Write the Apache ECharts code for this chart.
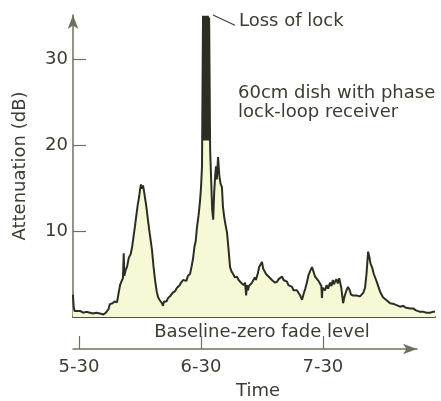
<!DOCTYPE html>
<html>
<head>
<meta charset="utf-8">
<script src="https://cdn.jsdelivr.net/npm/echarts@6/dist/echarts.min.js"></script>
<style>
html,body{margin:0;padding:0;background:#ffffff;}
#chart{width:441px;height:401px;}
</style>
</head>
<body>
<div id="chart"></div>
<script>
// Time in minutes after 5:00 (5-30 = 30, 6-30 = 90, 7-30 = 150)
var timeMin = [
  27.0, 27.4, 27.8, 28.5, 30.5, 32.0, 33.5, 35.4, 37.0, 38.5, 40.3, 42.0, 43.2, 43.8, 44.5, 45.2,
  46.5, 47.5, 48.7, 49.5, 50.2, 51.0, 51.6, 52.0, 52.3, 53.0, 53.6, 54.5, 55.4, 56.1, 56.8, 57.5,
  58.2, 59.0, 59.6, 60.0, 60.5, 61.0, 61.5, 62.0, 62.5, 62.9, 63.4, 63.9, 64.9, 65.9, 66.6, 67.4,
  68.2, 68.9, 69.6, 70.3, 70.8, 71.3, 71.8, 72.3, 73.0, 73.8, 74.8, 76.0, 77.2, 78.2, 79.5, 80.2,
  81.2, 82.0, 82.8, 83.6, 84.2, 84.6, 85.4, 86.1, 86.8, 87.4, 88.0, 88.8, 89.5, 90.0, 90.5, 91.0,
  91.3, 91.6, 91.9, 92.2, 92.5, 92.8, 93.1, 93.4, 93.7, 94.0, 94.5, 95.0, 95.5, 96.0, 96.5, 97.0,
  97.4, 97.8, 98.4, 99.0, 99.6, 100.3, 100.8, 101.5, 102.0, 102.8, 103.5, 104.3, 105.0, 105.8, 106.7, 107.7,
  108.5, 109.2, 110.0, 110.7, 111.3, 111.7, 112.2, 112.6, 113.1, 113.6, 114.5, 115.1, 115.6, 116.5, 117.0, 117.6,
  118.0, 118.6, 119.3, 120.0, 120.6, 121.5, 122.0, 122.5, 123.2, 124.0, 124.9, 125.6, 126.3, 127.4, 128.2, 129.0,
  129.9, 130.6, 131.4, 132.3, 133.0, 133.8, 134.8, 135.5, 136.2, 137.2, 138.0, 138.8, 139.7, 140.5, 141.3, 142.1,
  142.8, 143.6, 144.6, 145.3, 146.1, 147.0, 147.8, 148.5, 149.2, 149.5, 149.8, 150.4, 151.0, 151.8, 152.5, 153.5,
  154.2, 154.8, 155.4, 155.9, 156.6, 157.3, 158.0, 158.4, 159.0, 159.5, 159.9, 160.6, 161.4, 162.3, 163.0, 163.8,
  164.8, 165.7, 166.5, 167.4, 168.2, 169.0, 169.8, 170.7, 171.4, 172.2, 172.8, 173.4, 174.1, 175.0, 176.6, 178.0,
  179.5, 181.0, 183.0, 185.0, 187.9, 189.5, 190.5, 192.8, 194.5, 195.5, 197.7, 199.5, 201.0, 202.6, 204.0, 205.1
];
var attenuationDb = [
  2.6, 1.2, 0.7, 0.6, 0.7, 0.5, 0.6, 0.5, 0.4, 0.5, 0.4, 0.3, 0.5, 0.3, 0.9, 1.5,
  1.6, 1.8, 1.7, 2.8, 3.7, 4.2, 4.5, 7.4, 4.8, 5.5, 5.8, 6.9, 7.3, 8.1, 9.3, 10.5,
  11.8, 13.2, 14.0, 14.8, 15.4, 14.9, 15.3, 14.6, 13.8, 13.2, 12.3, 11.3, 9.5, 7.8, 6.0, 4.3,
  3.0, 2.3, 2.0, 2.1, 1.6, 1.3, 1.8, 2.0, 1.8, 2.2, 2.4, 2.8, 3.0, 3.4, 3.7, 4.0,
  4.3, 4.4, 4.2, 4.8, 4.6, 5.0, 5.9, 6.8, 8.2, 8.8, 10.4, 11.8, 13.4, 15.0, 17.5, 35.0,
  20.5, 35.0, 20.5, 35.0, 20.5, 35.0, 20.5, 35.0, 20.5, 34.8, 19.4, 16.0, 12.5, 11.3, 14.5, 16.5,
  17.5, 16.0, 18.6, 16.5, 15.5, 15.1, 12.8, 11.5, 10.8, 9.8, 8.0, 5.8, 5.3, 5.0, 4.6, 4.7,
  4.3, 4.2, 3.9, 4.1, 3.7, 4.0, 2.5, 3.7, 3.1, 3.6, 3.8, 4.0, 4.1, 4.6, 4.3, 4.8,
  5.1, 5.8, 5.6, 6.4, 5.6, 5.5, 5.0, 5.2, 4.7, 4.9, 4.3, 4.5, 4.0, 4.1, 4.4, 4.6,
  4.7, 4.3, 4.2, 4.1, 3.7, 3.8, 3.5, 3.1, 3.3, 3.1, 2.8, 2.5, 2.0, 2.7, 3.3, 4.0,
  4.8, 5.3, 5.8, 5.3, 4.7, 4.5, 4.2, 4.0, 3.6, 2.2, 3.4, 3.3, 3.1, 3.7, 3.3, 4.0,
  3.6, 4.3, 3.8, 4.1, 4.4, 3.9, 4.5, 4.3, 3.4, 2.4, 1.6, 2.4, 3.0, 3.5, 3.2, 2.6,
  2.5, 2.3, 2.5, 2.3, 2.4, 2.5, 2.8, 3.4, 5.0, 7.6, 7.0, 6.2, 5.8, 5.0, 4.0, 3.0,
  2.3, 2.0, 1.6, 1.5, 1.2, 1.3, 1.1, 1.0, 1.0, 0.8, 0.6, 0.6, 0.5, 0.5, 0.6, 0.6
];
var yTickValues = [10, 20, 30];
var timeTickValues = [30, 90, 150];
var timeTickLabels = ['5-30', '6-30', '7-30'];

var FONT = 'DejaVu Sans';
var TEXT = '#3a3d31';
var AXIS = '#6e705f';

var seriesData = timeMin.map(function (t, i) { return [t, attenuationDb[i]]; });

var chart = echarts.init(document.getElementById('chart'), null, {renderer: 'canvas'});
chart.setOption({
  animation: false,
  backgroundColor: '#ffffff',
  grid: [
    {left: 73, top: 15, width: 362, height: 302},
    {left: 73, top: 300, width: 344, height: 58}
  ],
  xAxis: [
    {
      type: 'value', gridIndex: 0, min: 27.05, max: 205.1,
      axisLine: {show: true, onZero: false, lineStyle: {color: '#50533f', width: 2}},
      axisTick: {show: false}, axisLabel: {show: false}, splitLine: {show: false}
    },
    {
      type: 'value', gridIndex: 1, min: 27.05, max: 196.3,
      axisLine: {show: true, onZero: false, symbol: ['none', 'arrow'], symbolSize: [8, 14],
        lineStyle: {color: AXIS, width: 1.5}},
      axisTick: {show: true, inside: true, length: 13, customValues: timeTickValues,
        lineStyle: {color: AXIS, width: 1.2}},
      axisLabel: {show: true, customValues: timeTickValues, margin: 9,
        fontFamily: FONT, fontSize: 18, color: TEXT,
        formatter: function (v) { var i = timeTickValues.indexOf(Math.round(v)); return i >= 0 ? timeTickLabels[i] : ''; }},
      splitLine: {show: false},
      name: 'Time', nameLocation: 'middle', nameGap: 33,
      nameTextStyle: {fontFamily: FONT, fontSize: 18, color: TEXT, padding: [0, 0, 0, 26]}
    }
  ],
  yAxis: [
    {
      type: 'value', gridIndex: 0, min: 0, max: 35.1,
      axisLine: {show: true, symbol: ['none', 'arrow'], symbolSize: [8, 14],
        lineStyle: {color: AXIS, width: 1.5}},
      axisTick: {show: true, inside: true, length: 13, customValues: yTickValues,
        lineStyle: {color: AXIS, width: 1.2}},
      axisLabel: {show: true, customValues: yTickValues, margin: 5,
        fontFamily: FONT, fontSize: 18, color: TEXT},
      splitLine: {show: false},
      name: 'Attenuation (dB)', nameLocation: 'middle', nameGap: 44, nameRotate: 90,
      nameTextStyle: {fontFamily: FONT, fontSize: 18, color: TEXT}
    },
    {type: 'value', gridIndex: 1, min: 0, max: 1, show: false}
  ],
  series: [{
    type: 'line',
    xAxisIndex: 0, yAxisIndex: 0,
    data: seriesData,
    showSymbol: false,
    symbol: 'none',
    smooth: false,
    lineStyle: {color: '#2b2f23', width: 2},
    areaStyle: {color: '#f7f9d6', opacity: 1},
    markLine: {
      silent: true, symbol: 'none', animation: false,
      label: {show: false},
      lineStyle: {color: '#3d4034', width: 1.2, type: 'solid'},
      data: [[{coord: [95.9, 35.1]}, {coord: [106.7, 33.9]}]]
    },
    z: 3
  }],
  graphic: [
    {type: 'text', x: 239, y: 21, style: {text: 'Loss of lock', font: '18px "DejaVu Sans"', fill: TEXT, verticalAlign: 'middle'}},
    {type: 'text', x: 238, y: 93, style: {text: '60cm dish with phase', font: '18px "DejaVu Sans"', fill: TEXT, verticalAlign: 'middle'}},
    {type: 'text', x: 238, y: 112, style: {text: 'lock-loop receiver', font: '18px "DejaVu Sans"', fill: TEXT, verticalAlign: 'middle'}},
    {type: 'text', x: 262, y: 332, style: {text: 'Baseline-zero fade level', font: '18px "DejaVu Sans"', fill: TEXT, align: 'center', verticalAlign: 'middle'}}
  ]
});
</script>
</body>
</html>
